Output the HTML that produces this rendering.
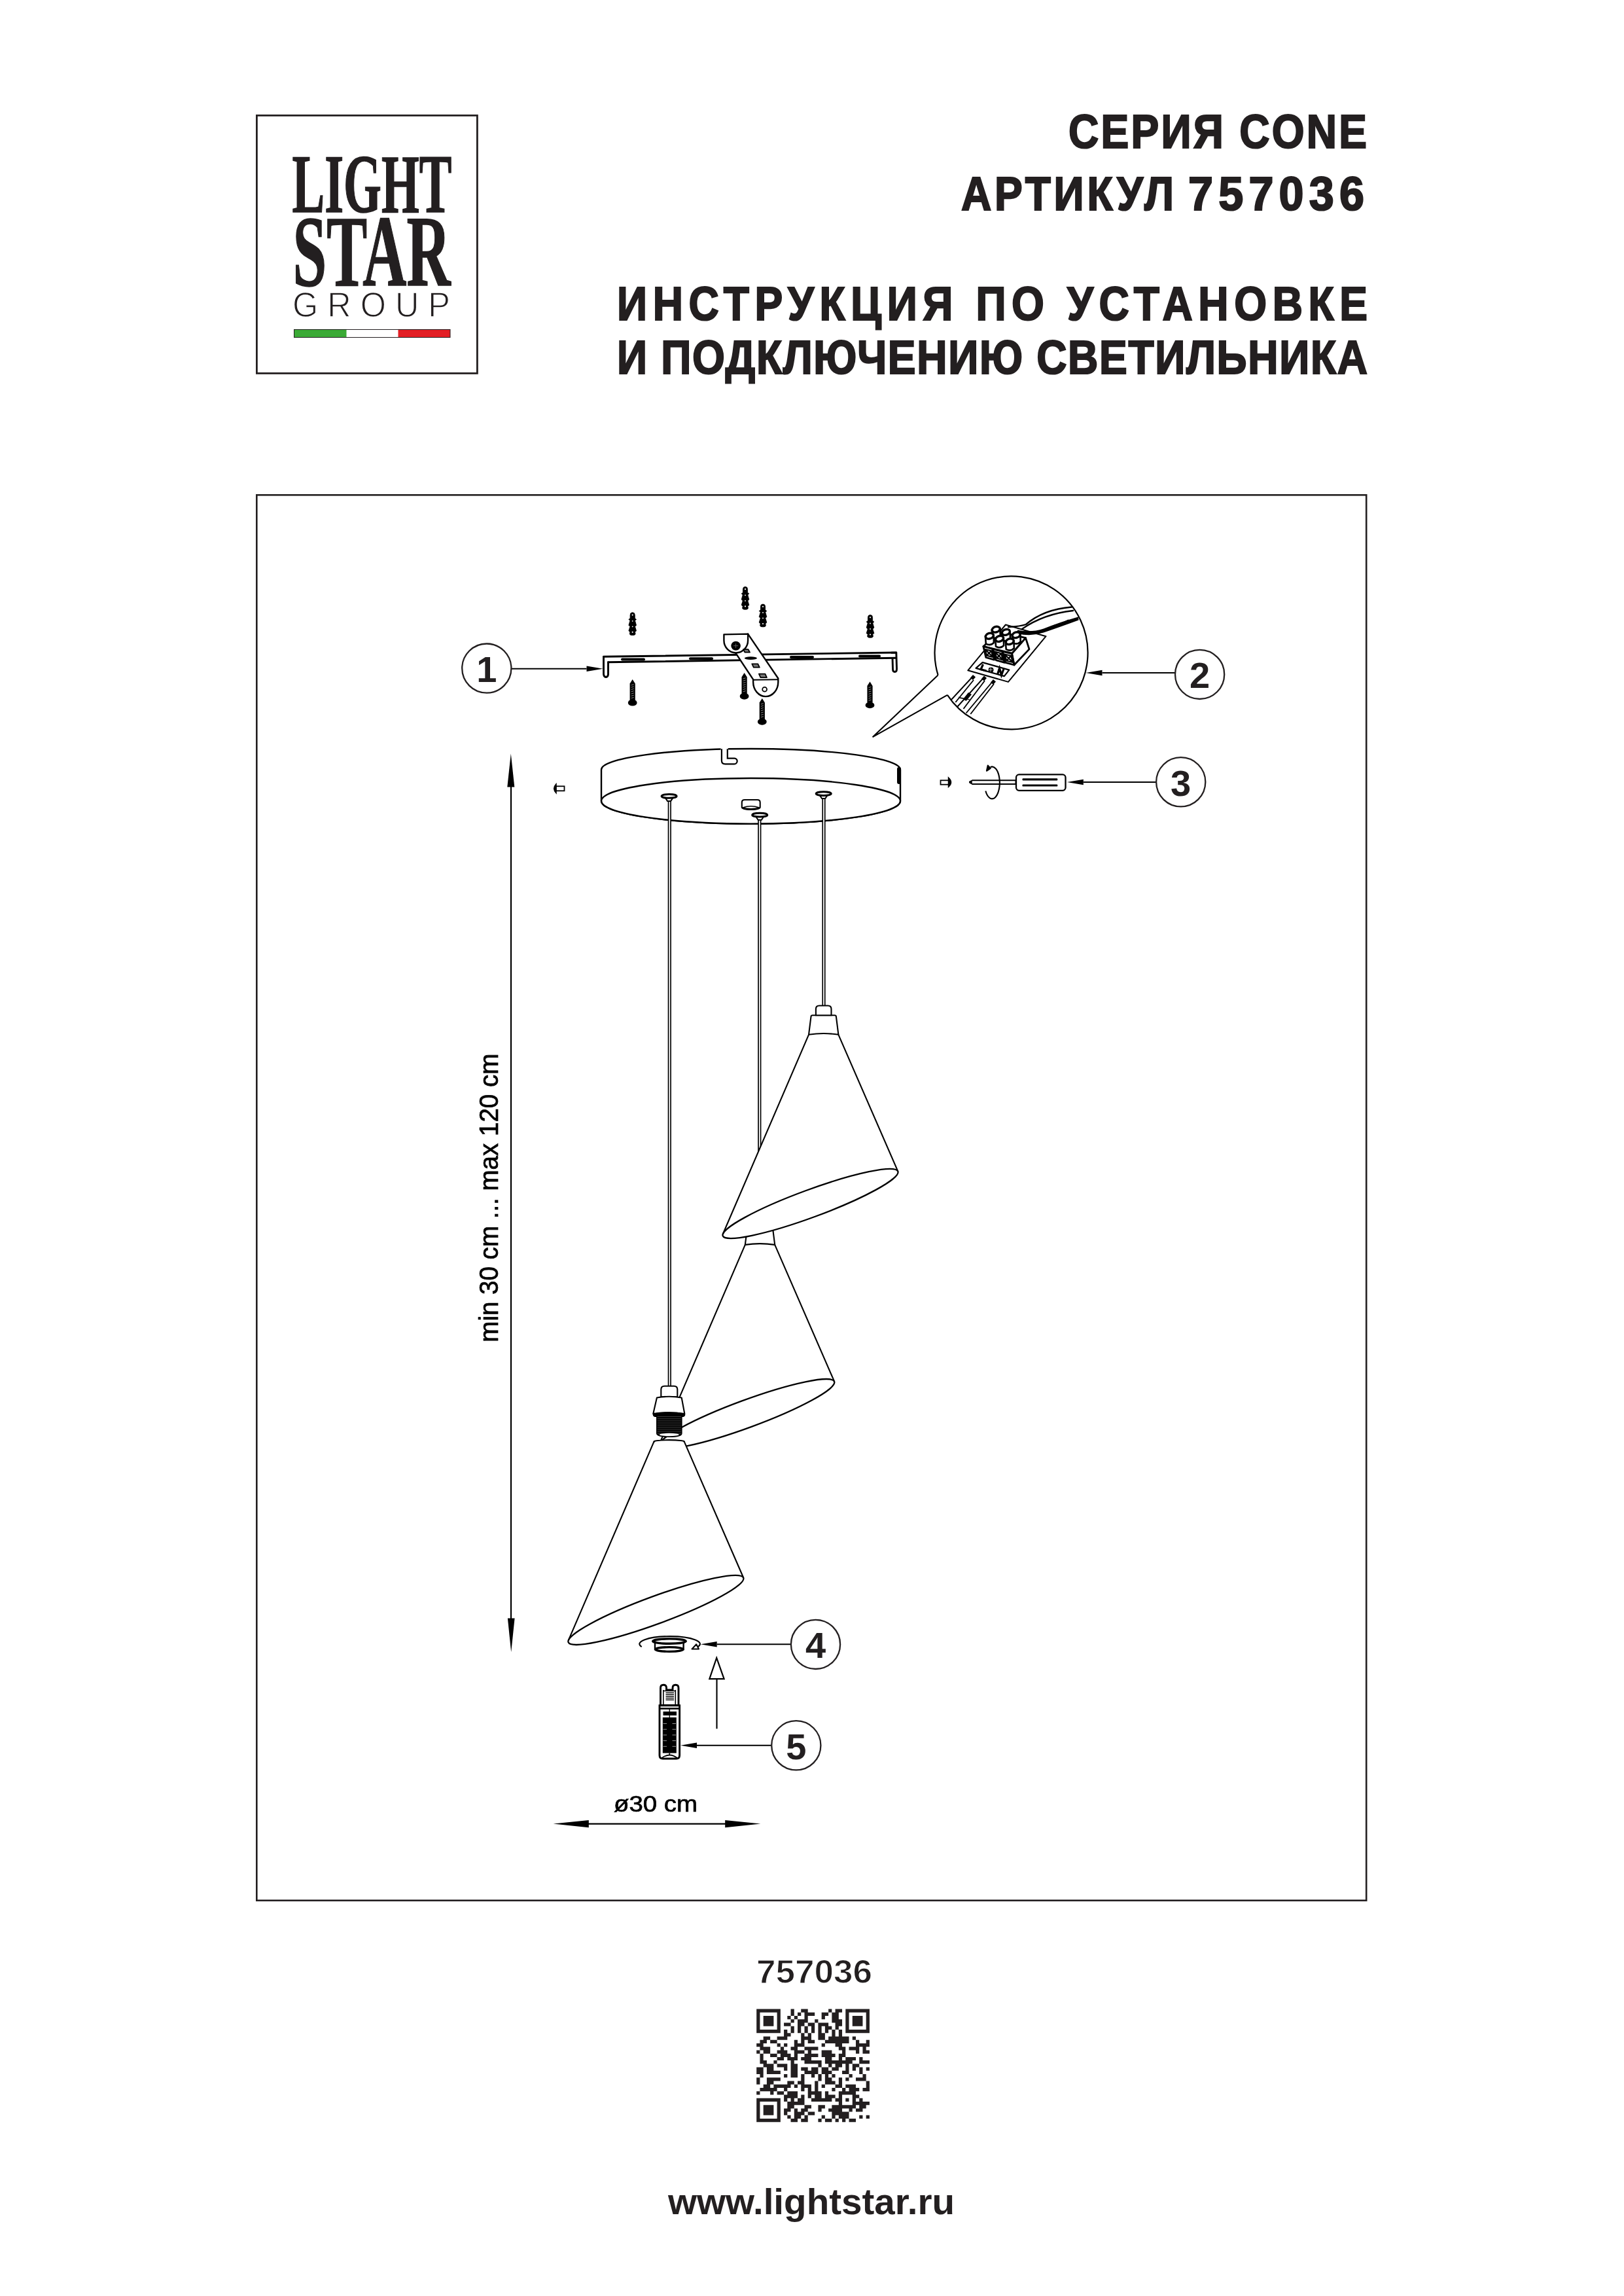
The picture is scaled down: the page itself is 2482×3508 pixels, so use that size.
<!DOCTYPE html>
<html><head><meta charset="utf-8">
<style>
html,body{margin:0;padding:0;background:#fff;}
body{width:2482px;height:3508px;position:relative;overflow:hidden;}
svg{position:absolute;left:0;top:0;}
</style></head><body>
<svg width="2482" height="3508" viewBox="0 0 2482 3508">
<rect x="392.4" y="176.4" width="337" height="394" fill="none" stroke="#231f20" stroke-width="2.8"/>
<g id="logo" fill="#231f20">
<text x="446.5" y="323.5" style="font-family:'Liberation Serif';font-weight:bold;font-size:128px" stroke="#231f20" stroke-width="1.6" textLength="244" lengthAdjust="spacingAndGlyphs">LIGHT</text>
<text x="447.5" y="435.6" style="font-family:'Liberation Serif';font-weight:bold;font-size:154px" stroke="#231f20" stroke-width="1.6" textLength="241" lengthAdjust="spacingAndGlyphs">STAR</text>
<text x="447" y="483.6" style="font-family:'Liberation Sans';font-size:53px" stroke="#fff" stroke-width="1.3" textLength="241" lengthAdjust="spacingAndGlyphs">G R O U P</text>
</g>
<rect x="449.5" y="503.5" width="80" height="12" fill="#3aaa35"/>
<rect x="608.5" y="503.5" width="79.5" height="12" fill="#e31e24"/>
<rect x="449.5" y="503.5" width="238.5" height="12" fill="none" stroke="#231f20" stroke-width="1"/>
<g fill="#231f20" stroke="#231f20" stroke-width="2.2" stroke-linejoin="miter" style="font-family:'Liberation Sans';font-weight:bold;font-size:72px">
<g transform="translate(1633 226) scale(0.89 1)"><text x="0" y="0" textLength="512.4" lengthAdjust="spacing">СЕРИЯ CONE</text></g>
<g transform="translate(1469 320.6) scale(0.89 1)"><text x="0" y="0" textLength="365.2" lengthAdjust="spacing">АРТИКУЛ</text></g>
<g transform="translate(1816 320.6) scale(0.95 1)"><text x="0" y="0" textLength="283.2" lengthAdjust="spacing">757036</text></g>
<g transform="translate(943 489) scale(0.89 1)"><text x="0" y="0" textLength="1288.8" lengthAdjust="spacing">ИНСТРУКЦИЯ ПО УСТАНОВКЕ</text></g>
<g transform="translate(943 570.6) scale(0.89 1)"><text x="0" y="0" textLength="1288.8" lengthAdjust="spacing">И ПОДКЛЮЧЕНИЮ СВЕТИЛЬНИКА</text></g>
</g>
<rect x="392.3" y="756.3" width="1695.9" height="2147.4" fill="none" stroke="#231f20" stroke-width="2.6"/>
<line x1="781" y1="1200" x2="781" y2="2475" stroke="#000" stroke-width="2.2"/><path d="M780.8 1151.5L775.3 1202.5L786.3 1202.5Z" fill="#000"/><path d="M781.2 2524.3L775.9 2472.5L786.6 2472.5Z" fill="#000"/><filter id="gs" x="0" y="0" width="1" height="1" filterUnits="objectBoundingBox"><feColorMatrix type="saturate" values="0"/></filter><g filter="url(#gs)"><text transform="translate(760.9 2050.7) rotate(-90)" x="0" y="0" style="font-family:'Liberation Sans';font-size:40px" fill="#000" stroke="#000" stroke-width="0.7" textLength="441" lengthAdjust="spacingAndGlyphs">min 30 cm ... max 120 cm</text></g><line x1="895" y1="2786.6" x2="1112" y2="2786.6" stroke="#000" stroke-width="2.2"/><path d="M845.5 2786.6L899.8 2781L899.8 2792.2Z" fill="#000"/><path d="M1162.5 2786.6L1108.2 2781L1108.2 2792.2Z" fill="#000"/><g filter="url(#gs)"><text x="938" y="2768.2" style="font-family:'Liberation Sans';font-size:35px" fill="#000" stroke="#000" stroke-width="0.7" textLength="128"  lengthAdjust="spacingAndGlyphs">ø30 cm</text></g><path d="M919 1176A228.5 32 0 0 1 1376 1176L1376 1223.8A228.5 34.8 0 0 1 919 1223.8Z" fill="#fff" stroke="#000" stroke-width="2.4"/><ellipse cx="1147.5" cy="1223.8" rx="228.5" ry="34.8" fill="#fff" stroke="#000" stroke-width="2.4"/><rect x="1101.6" y="1140" width="11.2" height="6" fill="#fff"/><path d="M1102.9 1144.2L1102.9 1162Q1102.9 1167.4 1108.3 1167.4L1122 1167.4A4.4 4.4 0 1 0 1122.5 1158.6L1111.8 1158.6L1111.8 1144.2" fill="#fff" stroke="#000" stroke-width="2.2"/><rect x="1371" y="1172" width="6" height="26" rx="3" fill="#000"/><path d="M1133.8 1226Q1133.8 1222 1138 1222L1157.5 1222Q1161.7 1222 1161.7 1226L1161.7 1233Q1161.7 1237 1147.7 1237Q1133.8 1237 1133.8 1233Z" fill="#fff" stroke="#000" stroke-width="2.1"/><path d="M1135 1234Q1147.7 1229.5 1160.5 1234Q1147.7 1237.5 1135 1234Z" fill="#fff" stroke="#000" stroke-width="1.6"/><rect x="1020.7" y="1220.0" width="5.2" height="898.0" fill="#000"/><rect x="1022.4" y="1220.0" width="1.8" height="898.0" fill="#fff"/><rect x="1158.2" y="1249.0" width="5.2" height="651.0" fill="#000"/><rect x="1159.9" y="1249.0" width="1.8" height="651.0" fill="#fff"/><rect x="1256.4" y="1216.0" width="5.2" height="321.0" fill="#000"/><rect x="1258.1" y="1216.0" width="1.8" height="321.0" fill="#fff"/><path d="M1016.1 1217.9L1020.0 1223.9L1025.2 1223.9L1029.1 1217.9Z" fill="#fff" stroke="#000" stroke-width="2"/><ellipse cx="1022.6" cy="1216.4" rx="11.6" ry="2.9" fill="#fff" stroke="#000" stroke-width="3"/><path d="M1154.7 1246.7L1158.6 1252.7L1163.8 1252.7L1167.7 1246.7Z" fill="#fff" stroke="#000" stroke-width="2"/><ellipse cx="1161.2" cy="1245.2" rx="11.6" ry="2.9" fill="#fff" stroke="#000" stroke-width="3"/><path d="M1252.2 1214.1L1256.1 1220.1L1261.3 1220.1L1265.2 1214.1Z" fill="#fff" stroke="#000" stroke-width="2"/><ellipse cx="1258.7" cy="1212.6" rx="11.6" ry="2.9" fill="#fff" stroke="#000" stroke-width="3"/><rect x="849.5" y="1201.3" width="13" height="7" fill="#fff" stroke="#000" stroke-width="1.8"/><path d="M850 1197.8Q843.5 1204.8 850 1211.8Z" fill="#000" stroke="#000" stroke-width="1.5"/><rect x="1437.5" y="1192.3" width="12.5" height="6.4" fill="#fff" stroke="#000" stroke-width="1.8"/><path d="M1449.5 1188Q1457.5 1195.2 1449.5 1202.4Z" fill="#000" stroke="#000" stroke-width="1.5"/><path d="M1138.8 1901.9L1007.8 2206.1L1275.1 2110.7L1184.2 1901.9Z" fill="#fff"/><ellipse cx="1141.3" cy="2160.1" rx="142.6" ry="21" transform="rotate(-20.2 1141.3 2160.1)" fill="#fff" stroke="#000" stroke-width="2.3"/><path d="M1138.8 1901.9L1007.8 2206.1M1184.2 1901.9L1275.1 2110.7" fill="none" stroke="#000" stroke-width="2.1"/><path d="M1138.8 1901.9L1142.3 1874.3Q1142.5 1872.4 1144.5 1872.4L1178.5 1872.4Q1180.5 1872.4 1180.7 1874.3L1184.2 1901.9Q1161.5 1898.4 1138.8 1901.9Z" fill="#fff" stroke="#000" stroke-width="2.1" stroke-linejoin="round"/><path d="M1236.0 1580.8L1105.0 1885.0L1372.3 1789.6L1281.4 1580.8Z" fill="#fff"/><ellipse cx="1238.5" cy="1839.0" rx="142.6" ry="21" transform="rotate(-20.2 1238.5 1839.0)" fill="#fff" stroke="#000" stroke-width="2.3"/><path d="M1236.0 1580.8L1105.0 1885.0M1281.4 1580.8L1372.3 1789.6" fill="none" stroke="#000" stroke-width="2.1"/><path d="M1236.0 1580.8L1239.5 1553.2Q1239.7 1551.3 1241.7 1551.3L1275.7 1551.3Q1277.7 1551.3 1277.9 1553.2L1281.4 1580.8Q1258.7 1577.3 1236.0 1580.8Z" fill="#fff" stroke="#000" stroke-width="2.1" stroke-linejoin="round"/><path d="M1246.9 1551.3L1246.9 1541.8Q1246.9 1536.5 1252.2 1536.5L1265.2 1536.5Q1270.5 1536.5 1270.5 1541.8L1270.5 1551.3Z" fill="#fff" stroke="#000" stroke-width="2.1"/><path d="M1010.3 2134.3L1010.3 2123Q1010.3 2117.7 1015.6 2117.7L1030 2117.7Q1035.3 2117.7 1035.3 2123L1035.3 2134.3Z" fill="#fff" stroke="#000" stroke-width="2.1"/><path d="M1003.9 2135.5Q1022.8 2132 1041.7 2135.5L1046.3 2160Q1022.8 2156.5 998.3 2160Z" fill="#fff" stroke="#000" stroke-width="2.1" stroke-linejoin="round"/><path d="M998 2159.5Q1022.8 2155 1047 2159.5Q1048 2164 1044 2165L1001 2165Q997 2164 998 2159.5Z" fill="#000"/><path d="M1003 2162L1042.6 2162L1042.6 2190Q1042.6 2196 1022.8 2196Q1003 2196 1003 2190Z" fill="#000"/><line x1="1004.5" y1="2164.5" x2="1041" y2="2164.5" stroke="#666" stroke-width="0.6"/><line x1="1004.5" y1="2167.7" x2="1041" y2="2167.7" stroke="#666" stroke-width="0.6"/><line x1="1004.5" y1="2170.9" x2="1041" y2="2170.9" stroke="#666" stroke-width="0.6"/><line x1="1004.5" y1="2174.1" x2="1041" y2="2174.1" stroke="#666" stroke-width="0.6"/><line x1="1004.5" y1="2177.3" x2="1041" y2="2177.3" stroke="#666" stroke-width="0.6"/><line x1="1004.5" y1="2180.5" x2="1041" y2="2180.5" stroke="#666" stroke-width="0.6"/><line x1="1004.5" y1="2183.7" x2="1041" y2="2183.7" stroke="#666" stroke-width="0.6"/><line x1="1004.5" y1="2186.9" x2="1041" y2="2186.9" stroke="#666" stroke-width="0.6"/><line x1="1004.5" y1="2190.1" x2="1041" y2="2190.1" stroke="#666" stroke-width="0.6"/><ellipse cx="1022.8" cy="2192" rx="15" ry="2.2" fill="#fff"/><path d="M999.9 2201.7L868.9 2505.9L1136.2 2410.5L1045.3 2201.7Z" fill="#fff"/><ellipse cx="1002.4" cy="2459.9" rx="142.6" ry="21" transform="rotate(-20.2 1002.4 2459.9)" fill="#fff" stroke="#000" stroke-width="2.3"/><path d="M999.9 2201.7L868.9 2505.9M1045.3 2201.7L1136.2 2410.5" fill="none" stroke="#000" stroke-width="2.1"/><path d="M999.2 2203.6Q1000 2201.5 1003 2201.3Q1022.6 2199 1042.5 2201.3Q1045.5 2201.5 1046 2203.6" fill="#fff" stroke="#000" stroke-width="2.1"/><path d="M980.7 2516.2A46.3 11.7 0 1 1 1066 2516.5" fill="none" stroke="#000" stroke-width="2.1"/><path d="M1057.5 2519.5L1068 2519.5L1064.2 2512.2Z" fill="#fff" stroke="#000" stroke-width="2" stroke-linejoin="round"/><path d="M1001 2509L1001 2520L1044.6 2520L1044.6 2509" fill="#fff" stroke="#000" stroke-width="2.4"/><ellipse cx="1023" cy="2507.6" rx="25.3" ry="3.7" fill="#fff" stroke="#000" stroke-width="3.4"/><ellipse cx="1022.8" cy="2520" rx="21.2" ry="3.3" fill="#fff" stroke="#000" stroke-width="3.3"/><line x1="1095.7" y1="2512.3" x2="1208.5" y2="2512.3" stroke="#000" stroke-width="2.1"/><path d="M1070.7 2512.3L1095.7 2508.1L1095.7 2516.5Z" fill="#000"/><circle cx="1246.5" cy="2512.4" r="37.6" fill="#fff" stroke="#231f20" stroke-width="2.3"/><text x="1246.5" y="2533.4" text-anchor="middle" style="font-family:'Liberation Sans';font-weight:bold;font-size:56px" fill="#231f20">4</text><line x1="1095.5" y1="2565.8" x2="1095.5" y2="2641.3" stroke="#000" stroke-width="2.1"/><path d="M1095.2 2533L1084.3 2565.2L1106.6 2565.2Z" fill="#fff" stroke="#000" stroke-width="2.2" stroke-linejoin="miter"/><path d="M1009.5 2605.5L1009.5 2579Q1009.5 2574.3 1014 2574.3Q1018.5 2574.3 1018.5 2579L1018.5 2582L1028 2582L1028 2579Q1028 2574.3 1032.5 2574.3Q1037 2574.3 1037 2579L1037 2605.5Z" fill="#fff" stroke="#000" stroke-width="2.9"/><path d="M1013.8 2582L1013.8 2605.5M1032.3 2582L1032.3 2605.5M1014 2583.5L1032 2583.5" stroke="#000" stroke-width="1.6"/><rect x="1017.5" y="2585.7" width="12.5" height="1.4" fill="#000"/><rect x="1017.5" y="2588.4" width="12.5" height="1.4" fill="#000"/><rect x="1017.5" y="2591.1" width="12.5" height="1.4" fill="#000"/><rect x="1017.5" y="2593.8" width="12.5" height="1.4" fill="#000"/><rect x="1017.5" y="2596.5" width="12.5" height="1.4" fill="#000"/><path d="M1008 2605.7L1038.6 2605.7L1038.6 2682Q1038.6 2687 1033.6 2687L1013 2687Q1008 2687 1008 2682Z" fill="#fff" stroke="#000" stroke-width="2.9"/><line x1="1008" y1="2610.5" x2="1038.6" y2="2610.5" stroke="#000" stroke-width="2.6"/><line x1="1023.3" y1="2610.5" x2="1023.3" y2="2624" stroke="#000" stroke-width="1.3"/><rect x="1013.5" y="2615" width="20.5" height="6" fill="#000"/><rect x="1012.8" y="2624" width="21" height="54.5" fill="#000"/><line x1="1013.5" y1="2633.5" x2="1019" y2="2633.5" stroke="#bbb" stroke-width="0.8"/><line x1="1027.5" y1="2633.5" x2="1033" y2="2633.5" stroke="#bbb" stroke-width="0.8"/><line x1="1013.5" y1="2642.2" x2="1019" y2="2642.2" stroke="#bbb" stroke-width="0.8"/><line x1="1027.5" y1="2642.2" x2="1033" y2="2642.2" stroke="#bbb" stroke-width="0.8"/><line x1="1013.5" y1="2650.9" x2="1019" y2="2650.9" stroke="#bbb" stroke-width="0.8"/><line x1="1027.5" y1="2650.9" x2="1033" y2="2650.9" stroke="#bbb" stroke-width="0.8"/><line x1="1013.5" y1="2659.6" x2="1019" y2="2659.6" stroke="#bbb" stroke-width="0.8"/><line x1="1027.5" y1="2659.6" x2="1033" y2="2659.6" stroke="#bbb" stroke-width="0.8"/><line x1="1013.5" y1="2668.3" x2="1019" y2="2668.3" stroke="#bbb" stroke-width="0.8"/><line x1="1027.5" y1="2668.3" x2="1033" y2="2668.3" stroke="#bbb" stroke-width="0.8"/><path d="M1023.3 2678.5L1023.3 2682M1011.5 2686Q1023.3 2677 1035 2686" fill="none" stroke="#000" stroke-width="1.8"/><line x1="1065.0" y1="2666.8" x2="1178.5" y2="2666.8" stroke="#000" stroke-width="2.1"/><path d="M1040.0 2666.8L1065.0 2662.6L1065.0 2671.0Z" fill="#000"/><circle cx="1216.8" cy="2666.8" r="37.6" fill="#fff" stroke="#231f20" stroke-width="2.3"/><text x="1216.8" y="2687.8" text-anchor="middle" style="font-family:'Liberation Sans';font-weight:bold;font-size:56px" fill="#231f20">5</text><path d="M1482 1195.1L1486 1192.2L1552.5 1192.2L1552.5 1198L1486 1198Z" fill="#fff" stroke="#000" stroke-width="1.9" stroke-linejoin="round"/><circle cx="1483.5" cy="1195.1" r="2.4" fill="#000"/><rect x="1553" y="1183.4" width="75.5" height="24.4" rx="4.5" fill="#fff" stroke="#000" stroke-width="2.3"/><rect x="1562.5" y="1189.3" width="53.8" height="3.2" rx="1.2" fill="#000"/><rect x="1562.5" y="1198.4" width="53.8" height="3.2" rx="1.2" fill="#000"/><path d="M1506.3 1208.5A11.6 24.5 0 1 0 1513.7 1172" fill="none" stroke="#000" stroke-width="2.1"/><path d="M1509.7 1169.5L1513.8 1173.9L1507.9 1177.8Z" fill="#000" stroke="#000" stroke-width="2" stroke-linejoin="round"/><line x1="1655.8" y1="1195.0" x2="1767.0" y2="1195.0" stroke="#000" stroke-width="2.1"/><path d="M1630.8 1195.0L1655.8 1190.8L1655.8 1199.2Z" fill="#000"/><circle cx="1804.7" cy="1194.8" r="37.6" fill="#fff" stroke="#231f20" stroke-width="2.3"/><text x="1804.7" y="1215.8" text-anchor="middle" style="font-family:'Liberation Sans';font-weight:bold;font-size:56px" fill="#231f20">3</text><path d="M1433.6 1031.4L1333.6 1126.2L1447.9 1061.8" fill="none" stroke="#000" stroke-width="2.1" stroke-linejoin="miter"/><path d="M1433.6 1031.4A117 117 0 1 1 1447.9 1061.8" fill="none" stroke="#000" stroke-width="2.2"/><line x1="1684.5" y1="1028.0" x2="1796.0" y2="1028.0" stroke="#000" stroke-width="2.1"/><path d="M1659.5 1028.0L1684.5 1023.8L1684.5 1032.2Z" fill="#000"/><circle cx="1833.6" cy="1030.4" r="37.6" fill="#fff" stroke="#231f20" stroke-width="2.3"/><text x="1833.6" y="1051.4" text-anchor="middle" style="font-family:'Liberation Sans';font-weight:bold;font-size:56px" fill="#231f20">2</text><path d="M1479.3 1024.3L1536.9 954.5L1598.5 972.2L1540.9 1041.9Z" fill="#fff" stroke="#000" stroke-width="2" stroke-linejoin="round"/><g stroke="#000" stroke-width="2.4" fill="none" stroke-linecap="round"><path d="M1541 958Q1560 957 1568 954Q1595 931 1637.8 927.5"/><path d="M1562 961Q1595 938 1640 933"/></g><path d="M1555 962.5Q1575 967 1595 960.5Q1620 950.5 1648 942.5L1648.5 947.5Q1620 958 1595 966.5Q1575 973 1555 968Z" fill="#000"/><path d="M1600 962L1612 955L1604 961Z M1620 953L1633 947L1624 952Z" fill="#000" stroke="#000" stroke-width="1"/><path d="M1491.5 1020.9L1501.6 1012.1L1542.3 1023.6L1534.8 1033.1Z" fill="#fff" stroke="#000" stroke-width="2.2" stroke-linejoin="round"/><path d="M1502.5 1015L1499 1022.8L1507.5 1025" fill="none" stroke="#000" stroke-width="3.2"/><circle cx="1514.5" cy="1023.5" r="4" fill="#000"/><path d="M1514 1020L1514 1026.4M1511 1023.2L1517 1023.2" stroke="#fff" stroke-width="0.7"/><path d="M1524.5 1030.5L1527.5 1021L1530.5 1031.5L1534 1022" fill="none" stroke="#000" stroke-width="3.2"/><g stroke="#000" stroke-width="2.8" stroke-linejoin="round" fill="#fff"><path d="M1546.6 998.2L1567.5 974.6L1573 991.9L1550 1016Z"/><path d="M1502.9 987.7L1527 965L1567.5 974.6L1546.6 998.2Z"/><path d="M1502.9 987.7L1516.5 991.4L1519.6 1008.1L1506.8 1004.5Z"/><path d="M1517 991.4L1531.6 995.5L1535.3 1012.3L1522.2 1008.6Z"/><path d="M1532.2 995.5L1546.3 998.7L1550 1016L1536.9 1012.3Z"/></g><path d="M1505.5 992L1515 994.5L1517.5 1004L1508 1001.5ZM1505.5 992L1517.5 1004M1515 994.5L1508 1001.5" fill="#fff" stroke="#000" stroke-width="2.2"/><path d="M1520 995.5L1530 998.5L1533 1008.5L1523.5 1005.5ZM1520 995.5L1533 1008.5M1530 998.5L1523.5 1005.5" fill="#fff" stroke="#000" stroke-width="2.2"/><path d="M1535 999.5L1545 1002L1548 1012L1538.5 1009.5ZM1535 999.5L1548 1012M1545 1002L1538.5 1009.5" fill="#fff" stroke="#000" stroke-width="2.2"/><path d="M1515.9 962.5L1516.7 973.5Q1523.2 977.5 1528.8 972.0L1528.5 961.0Z" fill="#fff" stroke="#000" stroke-width="2.6"/><ellipse cx="1522.2" cy="961.7" rx="6.2" ry="4.2" transform="rotate(-18 1522.2 961.7)" fill="#fff" stroke="#000" stroke-width="3.4"/><path d="M1531.1 966.7L1531.9 977.7Q1538.4 981.7 1544.0 976.2L1543.7 965.2Z" fill="#fff" stroke="#000" stroke-width="2.6"/><ellipse cx="1537.4" cy="965.9" rx="6.2" ry="4.2" transform="rotate(-18 1537.4 965.9)" fill="#fff" stroke="#000" stroke-width="3.4"/><path d="M1546.8 971.0L1547.6 982.0Q1554.1 986.0 1559.7 980.5L1559.4 969.5Z" fill="#fff" stroke="#000" stroke-width="2.6"/><ellipse cx="1553.1" cy="970.2" rx="6.2" ry="4.2" transform="rotate(-18 1553.1 970.2)" fill="#fff" stroke="#000" stroke-width="3.4"/><path d="M1506.0 972.5L1506.8 983.5Q1513.3 987.5 1518.9 982.0L1518.6 971.0Z" fill="#fff" stroke="#000" stroke-width="2.6"/><ellipse cx="1512.3" cy="971.7" rx="6.2" ry="4.2" transform="rotate(-18 1512.3 971.7)" fill="#fff" stroke="#000" stroke-width="3.4"/><path d="M1521.2 976.7L1522.0 987.7Q1528.5 991.7 1534.1 986.2L1533.8 975.2Z" fill="#fff" stroke="#000" stroke-width="2.6"/><ellipse cx="1527.5" cy="975.9" rx="6.2" ry="4.2" transform="rotate(-18 1527.5 975.9)" fill="#fff" stroke="#000" stroke-width="3.4"/><path d="M1536.9 981.0L1537.7 992.0Q1544.2 996.0 1549.8 990.5L1549.5 979.5Z" fill="#fff" stroke="#000" stroke-width="2.6"/><ellipse cx="1543.2" cy="980.2" rx="6.2" ry="4.2" transform="rotate(-18 1543.2 980.2)" fill="#fff" stroke="#000" stroke-width="3.4"/><g stroke="#000" stroke-width="1.9" fill="none"><path d="M1484.5 1036L1453.5 1069.5M1488 1039L1460.3 1073"/><path d="M1501.5 1037.5L1463 1080M1505 1040L1472.5 1083"/><path d="M1515.5 1043L1476.6 1089.5M1519 1045L1483.3 1091"/></g><path d="M1483 1035.5L1487 1031L1491 1034.5L1487 1039Z M1500 1037L1504 1032.5L1508 1036L1504 1040.5Z M1514 1042.5L1518 1038L1522 1041.5L1518 1046Z" fill="#000"/><path d="M1472 1068L1480 1058L1485 1061L1476.5 1071Z" fill="#000"/><path d="M1466 1065.5L1482 1069L1467 1066.5Z" fill="#000" stroke="#000" stroke-width="1.2"/><g stroke="#000" stroke-width="2.9" fill="none" stroke-linejoin="round" stroke-linecap="round"><path d="M922.5 1003.3L1369.8 997"/><path d="M929.5 1011.8L1369 1005.2"/><path d="M922.5 1003.5L922.5 1030Q923 1034.5 926.5 1034.5Q929.5 1034 929.5 1030L929.5 1012"/><path d="M1362.5 997.3L1369.8 997.2L1370.5 1022Q1370.5 1026.5 1367.5 1026.5Q1364.5 1026.5 1364.5 1022L1364 1005.5"/></g><rect x="949" y="1005.6" width="37" height="4" rx="2" fill="#000"/><rect x="1053" y="1004.2" width="37" height="4" rx="2" fill="#000"/><rect x="1207" y="1002.0" width="37" height="4" rx="2" fill="#000"/><rect x="1312" y="1000.5" width="34" height="4" rx="2" fill="#000"/><path d="M1143.1 968.6L1189.3 1036.5L1189.3 1042A19 22 0 0 1 1151.1 1042L1151.1 1038.2L1124.6 998.2Z" fill="#fff" stroke="#000" stroke-width="2.4" stroke-linejoin="round"/><path d="M1151.1 1038.8L1189.3 1038.2" stroke="#000" stroke-width="2.1"/><path d="M1106.4 969.4L1143.1 968.6L1143.1 978.5A18.35 19 0 0 1 1106.4 978.5Z" fill="#fff" stroke="#000" stroke-width="2.4" stroke-linejoin="round"/><ellipse cx="1124.6" cy="986.7" rx="7.3" ry="7" fill="#000"/><path d="M1121 986.7L1128.2 986.7M1124.6 983.2L1124.6 990.2" stroke="#666" stroke-width="0.9"/><circle cx="1168.6" cy="1053.3" r="3.4" fill="#fff" stroke="#000" stroke-width="1.8"/><path d="M1136.0 992.1L1143.5 992.1L1146.0 996.7L1138.5 996.7Z" fill="#777" stroke="#000" stroke-width="1.8" stroke-linejoin="round"/><path d="M1149.3 1014.3L1158.3 1014.3L1160.8 1019.7L1151.8 1019.7Z" fill="#777" stroke="#000" stroke-width="1.8" stroke-linejoin="round"/><path d="M1159.9 1029.6L1169.4 1029.6L1171.9 1035.2L1162.4 1035.2Z" fill="#777" stroke="#000" stroke-width="1.8" stroke-linejoin="round"/><ellipse cx="1147.4" cy="1005.6" rx="9.6" ry="2.4" fill="#000"/><path d="M963.1 944.8L963.1 939.8Q963.1 935.8 966.7 935.8Q970.3 935.8 970.3 939.8L970.3 944.8L972.5 946.3L970.5 948.3L972.5 955.3L970.5 957.3L972.5 963.8L970.5 965.8L971.1 968.3Q971.1 970.6 966.7 970.6Q962.3 970.6 962.3 968.3L962.9 965.8L960.9 963.8L962.9 957.3L960.9 955.3L962.9 948.3L960.9 946.3Z" fill="#000" stroke="#000" stroke-width="0.8" stroke-linejoin="round"/><circle cx="966.7" cy="939.6" r="1.1" fill="#fff"/><circle cx="966.7" cy="948.8" r="0.9" fill="#fff"/><circle cx="966.7" cy="957.3" r="0.9" fill="#fff"/><circle cx="966.7" cy="965.8" r="1.1" fill="#fff"/><path d="M1135.4 905.4L1135.4 900.4Q1135.4 896.4 1139.0 896.4Q1142.6 896.4 1142.6 900.4L1142.6 905.4L1144.8 906.9L1142.8 908.9L1144.8 915.9L1142.8 917.9L1144.8 924.4L1142.8 926.4L1143.4 928.9Q1143.4 931.2 1139.0 931.2Q1134.6 931.2 1134.6 928.9L1135.2 926.4L1133.2 924.4L1135.2 917.9L1133.2 915.9L1135.2 908.9L1133.2 906.9Z" fill="#000" stroke="#000" stroke-width="0.8" stroke-linejoin="round"/><circle cx="1139.0" cy="900.2" r="1.1" fill="#fff"/><circle cx="1139.0" cy="909.4" r="0.9" fill="#fff"/><circle cx="1139.0" cy="917.9" r="0.9" fill="#fff"/><circle cx="1139.0" cy="926.4" r="1.1" fill="#fff"/><path d="M1162.4 932.0L1162.4 927.0Q1162.4 923.0 1166.0 923.0Q1169.6 923.0 1169.6 927.0L1169.6 932.0L1171.8 933.5L1169.8 935.5L1171.8 942.5L1169.8 944.5L1171.8 951.0L1169.8 953.0L1170.4 955.5Q1170.4 957.8 1166.0 957.8Q1161.6 957.8 1161.6 955.5L1162.2 953.0L1160.2 951.0L1162.2 944.5L1160.2 942.5L1162.2 935.5L1160.2 933.5Z" fill="#000" stroke="#000" stroke-width="0.8" stroke-linejoin="round"/><circle cx="1166.0" cy="926.8" r="1.1" fill="#fff"/><circle cx="1166.0" cy="936.0" r="0.9" fill="#fff"/><circle cx="1166.0" cy="944.5" r="0.9" fill="#fff"/><circle cx="1166.0" cy="953.0" r="1.1" fill="#fff"/><path d="M1326.4 948.5L1326.4 943.5Q1326.4 939.5 1330.0 939.5Q1333.6 939.5 1333.6 943.5L1333.6 948.5L1335.8 950.0L1333.8 952.0L1335.8 959.0L1333.8 961.0L1335.8 967.5L1333.8 969.5L1334.4 972.0Q1334.4 974.3 1330.0 974.3Q1325.6 974.3 1325.6 972.0L1326.2 969.5L1324.2 967.5L1326.2 961.0L1324.2 959.0L1326.2 952.0L1324.2 950.0Z" fill="#000" stroke="#000" stroke-width="0.8" stroke-linejoin="round"/><circle cx="1330.0" cy="943.3" r="1.1" fill="#fff"/><circle cx="1330.0" cy="952.5" r="0.9" fill="#fff"/><circle cx="1330.0" cy="961.0" r="0.9" fill="#fff"/><circle cx="1330.0" cy="969.5" r="1.1" fill="#fff"/><path d="M966.7 1037.9L970.8 1044.4L970.8 1069.9L962.6 1069.9L962.6 1044.4Z" fill="#000"/><ellipse cx="966.7" cy="1073.7" rx="6.9" ry="4.9" fill="#000"/><line x1="964.7" y1="1046.9" x2="968.7" y2="1045.7" stroke="#bbb" stroke-width="0.7"/><line x1="964.7" y1="1050.2" x2="968.7" y2="1049.0" stroke="#bbb" stroke-width="0.7"/><line x1="964.7" y1="1053.5" x2="968.7" y2="1052.3" stroke="#bbb" stroke-width="0.7"/><line x1="964.7" y1="1056.8" x2="968.7" y2="1055.6" stroke="#bbb" stroke-width="0.7"/><line x1="964.7" y1="1060.1" x2="968.7" y2="1058.9" stroke="#bbb" stroke-width="0.7"/><line x1="964.7" y1="1063.4" x2="968.7" y2="1062.2" stroke="#bbb" stroke-width="0.7"/><line x1="964.7" y1="1066.7" x2="968.7" y2="1065.5" stroke="#bbb" stroke-width="0.7"/><path d="M1137.6 1028.0L1141.7 1034.5L1141.7 1060.0L1133.5 1060.0L1133.5 1034.5Z" fill="#000"/><ellipse cx="1137.6" cy="1063.8" rx="6.9" ry="4.9" fill="#000"/><line x1="1135.6" y1="1037.0" x2="1139.6" y2="1035.8" stroke="#bbb" stroke-width="0.7"/><line x1="1135.6" y1="1040.3" x2="1139.6" y2="1039.1" stroke="#bbb" stroke-width="0.7"/><line x1="1135.6" y1="1043.6" x2="1139.6" y2="1042.4" stroke="#bbb" stroke-width="0.7"/><line x1="1135.6" y1="1046.9" x2="1139.6" y2="1045.7" stroke="#bbb" stroke-width="0.7"/><line x1="1135.6" y1="1050.2" x2="1139.6" y2="1049.0" stroke="#bbb" stroke-width="0.7"/><line x1="1135.6" y1="1053.5" x2="1139.6" y2="1052.3" stroke="#bbb" stroke-width="0.7"/><line x1="1135.6" y1="1056.8" x2="1139.6" y2="1055.6" stroke="#bbb" stroke-width="0.7"/><path d="M1164.8 1067.0L1168.9 1073.5L1168.9 1099.0L1160.7 1099.0L1160.7 1073.5Z" fill="#000"/><ellipse cx="1164.8" cy="1102.8" rx="6.9" ry="4.9" fill="#000"/><line x1="1162.8" y1="1076.0" x2="1166.8" y2="1074.8" stroke="#bbb" stroke-width="0.7"/><line x1="1162.8" y1="1079.3" x2="1166.8" y2="1078.1" stroke="#bbb" stroke-width="0.7"/><line x1="1162.8" y1="1082.6" x2="1166.8" y2="1081.4" stroke="#bbb" stroke-width="0.7"/><line x1="1162.8" y1="1085.9" x2="1166.8" y2="1084.7" stroke="#bbb" stroke-width="0.7"/><line x1="1162.8" y1="1089.2" x2="1166.8" y2="1088.0" stroke="#bbb" stroke-width="0.7"/><line x1="1162.8" y1="1092.5" x2="1166.8" y2="1091.3" stroke="#bbb" stroke-width="0.7"/><line x1="1162.8" y1="1095.8" x2="1166.8" y2="1094.6" stroke="#bbb" stroke-width="0.7"/><path d="M1329.5 1041.6L1333.6 1048.1L1333.6 1073.6L1325.4 1073.6L1325.4 1048.1Z" fill="#000"/><ellipse cx="1329.5" cy="1077.4" rx="6.9" ry="4.9" fill="#000"/><line x1="1327.5" y1="1050.6" x2="1331.5" y2="1049.4" stroke="#bbb" stroke-width="0.7"/><line x1="1327.5" y1="1053.9" x2="1331.5" y2="1052.7" stroke="#bbb" stroke-width="0.7"/><line x1="1327.5" y1="1057.2" x2="1331.5" y2="1056.0" stroke="#bbb" stroke-width="0.7"/><line x1="1327.5" y1="1060.5" x2="1331.5" y2="1059.3" stroke="#bbb" stroke-width="0.7"/><line x1="1327.5" y1="1063.8" x2="1331.5" y2="1062.6" stroke="#bbb" stroke-width="0.7"/><line x1="1327.5" y1="1067.1" x2="1331.5" y2="1065.9" stroke="#bbb" stroke-width="0.7"/><line x1="1327.5" y1="1070.4" x2="1331.5" y2="1069.2" stroke="#bbb" stroke-width="0.7"/><line x1="896.5" y1="1021.8" x2="780.0" y2="1021.8" stroke="#000" stroke-width="2.1"/><path d="M921.5 1021.8L896.5 1017.6L896.5 1026.0Z" fill="#000"/><circle cx="743.8" cy="1021.1" r="37.6" fill="#fff" stroke="#231f20" stroke-width="2.3"/><text x="743.8" y="1042.1" text-anchor="middle" style="font-family:'Liberation Sans';font-weight:bold;font-size:56px" fill="#231f20">1</text>
<text x="1156" y="3029.5" style="font-family:'Liberation Sans';font-weight:bold;font-size:50px" fill="#231f20" stroke="#fff" stroke-width="1.1" textLength="177" lengthAdjust="spacingAndGlyphs">757036</text>
<path transform="translate(1156.2 3069.6) scale(5.234)" fill="#231f20" d="M0 0h7v1h-7zM10 0h1v1h-1zM13 0h2v1h-2zM21 0h1v1h-1zM23 0h2v1h-2zM26 0h7v1h-7zM0 1h1v1h-1zM6 1h1v1h-1zM10 1h1v1h-1zM12 1h1v1h-1zM14 1h3v1h-3zM19 1h2v1h-2zM22 1h2v1h-2zM26 1h1v1h-1zM32 1h1v1h-1zM0 2h1v1h-1zM2 2h3v1h-3zM6 2h1v1h-1zM9 2h1v1h-1zM11 2h1v1h-1zM14 2h1v1h-1zM19 2h1v1h-1zM22 2h2v1h-2zM26 2h1v1h-1zM28 2h3v1h-3zM32 2h1v1h-1zM0 3h1v1h-1zM2 3h3v1h-3zM6 3h1v1h-1zM10 3h1v1h-1zM12 3h3v1h-3zM17 3h1v1h-1zM22 3h3v1h-3zM26 3h1v1h-1zM28 3h3v1h-3zM32 3h1v1h-1zM0 4h1v1h-1zM2 4h3v1h-3zM6 4h1v1h-1zM8 4h2v1h-2zM12 4h2v1h-2zM15 4h2v1h-2zM18 4h3v1h-3zM23 4h2v1h-2zM26 4h1v1h-1zM28 4h3v1h-3zM32 4h1v1h-1zM0 5h1v1h-1zM6 5h1v1h-1zM10 5h1v1h-1zM12 5h1v1h-1zM14 5h1v1h-1zM16 5h1v1h-1zM18 5h1v1h-1zM20 5h2v1h-2zM23 5h1v1h-1zM26 5h1v1h-1zM32 5h1v1h-1zM0 6h7v1h-7zM8 6h1v1h-1zM10 6h1v1h-1zM12 6h1v1h-1zM14 6h1v1h-1zM16 6h1v1h-1zM18 6h1v1h-1zM20 6h1v1h-1zM22 6h1v1h-1zM24 6h1v1h-1zM26 6h7v1h-7zM8 7h2v1h-2zM13 7h1v1h-1zM15 7h1v1h-1zM18 7h2v1h-2zM22 7h1v1h-1zM24 7h1v1h-1zM2 8h2v1h-2zM6 8h3v1h-3zM13 8h3v1h-3zM18 8h2v1h-2zM21 8h6v1h-6zM28 8h1v1h-1zM1 9h2v1h-2zM4 9h2v1h-2zM11 9h1v1h-1zM13 9h1v1h-1zM15 9h2v1h-2zM20 9h7v1h-7zM29 9h1v1h-1zM32 9h1v1h-1zM0 10h2v1h-2zM6 10h1v1h-1zM8 10h1v1h-1zM11 10h3v1h-3zM19 10h1v1h-1zM23 10h2v1h-2zM29 10h4v1h-4zM1 11h3v1h-3zM7 11h1v1h-1zM10 11h2v1h-2zM14 11h4v1h-4zM24 11h2v1h-2zM27 11h3v1h-3zM31 11h1v1h-1zM0 12h1v1h-1zM2 12h2v1h-2zM6 12h3v1h-3zM11 12h3v1h-3zM15 12h1v1h-1zM19 12h3v1h-3zM25 12h1v1h-1zM29 12h1v1h-1zM31 12h2v1h-2zM1 13h1v1h-1zM4 13h2v1h-2zM7 13h3v1h-3zM11 13h1v1h-1zM14 13h4v1h-4zM19 13h4v1h-4zM24 13h2v1h-2zM1 14h1v1h-1zM6 14h2v1h-2zM9 14h3v1h-3zM13 14h3v1h-3zM20 14h2v1h-2zM24 14h1v1h-1zM26 14h3v1h-3zM30 14h1v1h-1zM1 15h2v1h-2zM5 15h1v1h-1zM10 15h1v1h-1zM14 15h5v1h-5zM20 15h8v1h-8zM30 15h3v1h-3zM2 16h3v1h-3zM6 16h3v1h-3zM10 16h2v1h-2zM18 16h1v1h-1zM21 16h1v1h-1zM23 16h2v1h-2zM26 16h1v1h-1zM28 16h2v1h-2zM0 17h2v1h-2zM3 17h2v1h-2zM8 17h1v1h-1zM10 17h2v1h-2zM13 17h2v1h-2zM16 17h2v1h-2zM19 17h2v1h-2zM22 17h2v1h-2zM26 17h1v1h-1zM28 17h1v1h-1zM30 17h1v1h-1zM32 17h1v1h-1zM0 18h2v1h-2zM3 18h4v1h-4zM10 18h2v1h-2zM14 18h4v1h-4zM19 18h3v1h-3zM25 18h2v1h-2zM30 18h1v1h-1zM1 19h1v1h-1zM8 19h1v1h-1zM10 19h2v1h-2zM13 19h1v1h-1zM16 19h1v1h-1zM18 19h1v1h-1zM20 19h1v1h-1zM22 19h1v1h-1zM27 19h1v1h-1zM31 19h1v1h-1zM0 20h1v1h-1zM3 20h4v1h-4zM13 20h1v1h-1zM18 20h1v1h-1zM20 20h2v1h-2zM24 20h1v1h-1zM26 20h1v1h-1zM29 20h3v1h-3zM0 21h1v1h-1zM3 21h2v1h-2zM9 21h2v1h-2zM12 21h2v1h-2zM17 21h1v1h-1zM20 21h3v1h-3zM24 21h1v1h-1zM32 21h1v1h-1zM2 22h2v1h-2zM5 22h5v1h-5zM11 22h1v1h-1zM13 22h3v1h-3zM17 22h1v1h-1zM19 22h1v1h-1zM23 22h2v1h-2zM26 22h3v1h-3zM32 22h1v1h-1zM1 23h5v1h-5zM8 23h1v1h-1zM13 23h1v1h-1zM15 23h1v1h-1zM17 23h1v1h-1zM22 23h1v1h-1zM25 23h1v1h-1zM27 23h3v1h-3zM31 23h2v1h-2zM0 24h1v1h-1zM4 24h1v1h-1zM6 24h2v1h-2zM9 24h3v1h-3zM15 24h4v1h-4zM20 24h1v1h-1zM24 24h5v1h-5zM8 25h4v1h-4zM13 25h1v1h-1zM15 25h1v1h-1zM17 25h2v1h-2zM20 25h3v1h-3zM24 25h1v1h-1zM28 25h2v1h-2zM0 26h7v1h-7zM8 26h1v1h-1zM10 26h1v1h-1zM12 26h2v1h-2zM16 26h6v1h-6zM23 26h2v1h-2zM26 26h1v1h-1zM28 26h1v1h-1zM30 26h1v1h-1zM0 27h1v1h-1zM6 27h1v1h-1zM9 27h5v1h-5zM24 27h1v1h-1zM28 27h5v1h-5zM0 28h1v1h-1zM2 28h3v1h-3zM6 28h1v1h-1zM9 28h2v1h-2zM14 28h2v1h-2zM18 28h2v1h-2zM22 28h7v1h-7zM30 28h2v1h-2zM0 29h1v1h-1zM2 29h3v1h-3zM6 29h1v1h-1zM8 29h2v1h-2zM11 29h1v1h-1zM13 29h2v1h-2zM18 29h1v1h-1zM21 29h4v1h-4zM27 29h1v1h-1zM29 29h2v1h-2zM0 30h1v1h-1zM2 30h3v1h-3zM6 30h1v1h-1zM8 30h1v1h-1zM11 30h3v1h-3zM15 30h2v1h-2zM22 30h5v1h-5zM0 31h1v1h-1zM6 31h1v1h-1zM9 31h1v1h-1zM11 31h2v1h-2zM14 31h1v1h-1zM19 31h1v1h-1zM22 31h1v1h-1zM24 31h3v1h-3zM30 31h1v1h-1zM32 31h1v1h-1zM0 32h7v1h-7zM10 32h2v1h-2zM13 32h2v1h-2zM18 32h1v1h-1zM20 32h2v1h-2zM23 32h1v1h-1zM25 32h1v1h-1zM27 32h2v1h-2z"/>
<text x="1021" y="3383" style="font-family:'Liberation Sans';font-weight:bold;font-size:55px" fill="#231f20" textLength="438" lengthAdjust="spacingAndGlyphs">www.lightstar.ru</text>
</svg>
</body></html>
